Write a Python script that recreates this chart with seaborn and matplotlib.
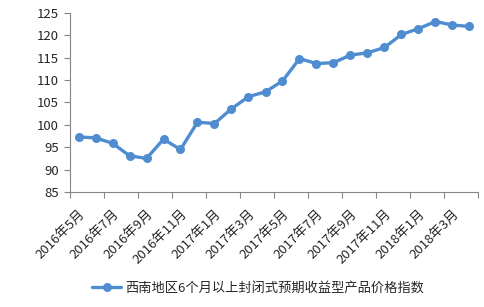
import matplotlib
matplotlib.use("Agg")
import matplotlib.pyplot as plt
import seaborn as sns
import pandas as pd
import numpy as np

months = ["2016年5月", "2016年6月", "2016年7月", "2016年8月", "2016年9月", "2016年10月",
          "2016年11月", "2016年12月", "2017年1月", "2017年2月", "2017年3月", "2017年4月",
          "2017年5月", "2017年6月", "2017年7月", "2017年8月", "2017年9月", "2017年10月",
          "2017年11月", "2017年12月", "2018年1月", "2018年2月", "2018年3月", "2018年4月"]
values = [97.3, 97.1, 95.9, 93.1, 92.5, 96.8, 94.5, 100.6, 100.3, 103.6, 106.3, 107.4,
          109.8, 114.8, 113.7, 113.9, 115.6, 116.1, 117.3, 120.2, 121.5, 123.1, 122.3, 122.0]
series_name = "西南地区6个月以上封闭式预期收益型产品价格指数"
y_ticks = [85, 90, 95, 100, 105, 110, 115, 120, 125]

sns.set_theme(style="white")
plt.rcParams['font.family'] = ['Noto Sans CJK SC', 'DejaVu Sans']

df = pd.DataFrame({"pos": np.arange(len(months)), "value": values, "series": series_name})

fig = plt.figure(figsize=(4.84, 3.07), dpi=100)
ax = fig.add_axes([70/484, 1 - 192/307, (478-70)/484, (192-13)/307])

color = "#4F8DD0"
sns.lineplot(data=df, x="pos", y="value", hue="series", palette=[color], ax=ax,
             marker="o", markersize=6.5, linewidth=2.4, markeredgewidth=0, legend=False)

ax.set_xlim(-0.5, len(months) - 0.5)
ax.set_ylim(85, 125)
ax.set_yticks(y_ticks)
ax.set_yticklabels([str(v) for v in y_ticks], fontsize=9.5)
label_pos = list(range(0, len(months), 2))
ax.set_xticks(label_pos)
ax.set_xticklabels([months[i] for i in label_pos], rotation=45, ha="right",
                   rotation_mode="anchor", fontsize=9.5)
ax.set_xticks(np.arange(-0.5, len(months), 2), minor=True)
ax.tick_params(axis="x", which="major", length=0, pad=11)
ax.tick_params(axis="x", which="minor", length=4, color="#868686", width=0.8, direction="out", bottom=True)
ax.tick_params(axis="y", which="major", length=4, color="#868686", width=0.8, direction="out", left=True, pad=4)
ax.set_xlabel("")
ax.set_ylabel("")
for s in ["top", "right"]:
    ax.spines[s].set_visible(False)
for s in ["left", "bottom"]:
    ax.spines[s].set_color("#868686")
    ax.spines[s].set_linewidth(0.8)
ax.grid(False)

from matplotlib.lines import Line2D
handle = Line2D([], [], color=color, marker="o", markersize=6.5, linewidth=2.4, markeredgewidth=0)
fig.legend([handle], [series_name], loc="center", bbox_to_anchor=(258/484, 1 - 288/307),
           frameon=False, fontsize=9.5, handlelength=2.2, handletextpad=0.3)

fig.savefig("out.png", dpi=100)
